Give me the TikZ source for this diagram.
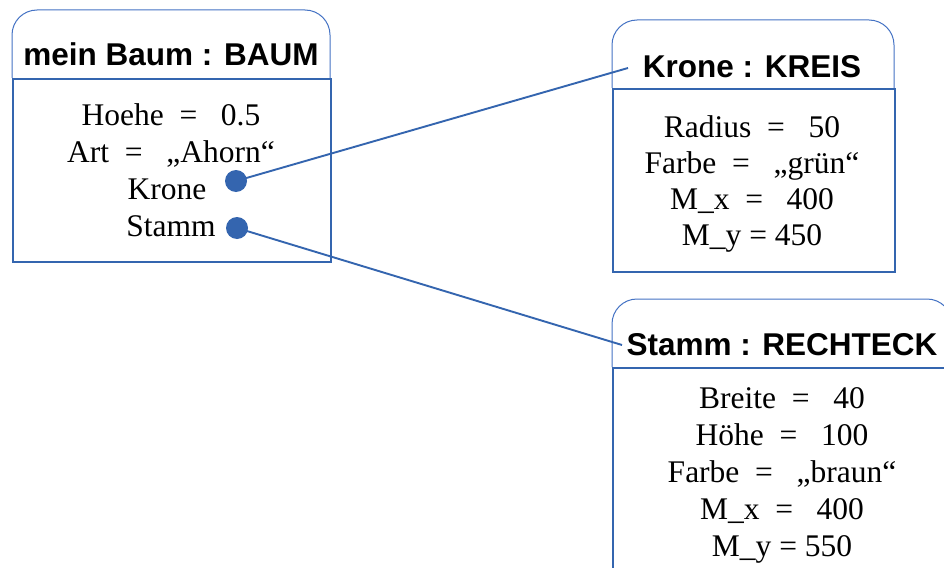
\documentclass[tikz,border=0pt]{standalone}
\usepackage{fontspec}
\setmainfont{Liberation Serif}
\newfontfamily\titlefont{Liberation Sans}
\definecolor{umlblue}{RGB}{52,101,175}
\definecolor{headblue}{RGB}{68,114,196}
\begin{document}
\begin{tikzpicture}[x=1pt,y=-1pt,
  headline/.style={draw=headblue, line width=1pt, rounded corners=25pt},
  bodybox/.style={draw=umlblue, line width=2pt, inner sep=0pt, anchor=north west},
  titletext/.style={font=\titlefont\bfseries\fontsize{31.5}{36}\selectfont, anchor=base, inner sep=0pt},
  attr/.style={font=\fontsize{31.5}{37}\selectfont, anchor=base, inner sep=0pt},
  refdot/.style={circle, fill=umlblue, minimum size=22pt, inner sep=0pt},
  link/.style={draw=umlblue, line width=1.9pt}]
\useasboundingbox (0,0) rectangle (944,567);
\fill[white] (0,0) rectangle (944,567);

% ---- Box 1: mein Baum
\draw[headline] (12,78) -- (12,10) -- (330,10) -- (330,78);
\node[bodybox, minimum width=318pt, minimum height=183pt] (b1) at (12,78) {};
\node[titletext] (t1) at (171,66) {mein Baum : BAUM};
\node[attr] (a11) at (171,125) {Hoehe\ \ =\ \ \ 0.5};
\node[attr] (a12) at (171,162) {Art\ \ =\ \ \ „Ahorn“};
\node[attr] (a13) at (167,199) {Krone};
\node[attr] (a14) at (171,236) {Stamm};
\node[refdot] (dk) at (236,181) {};
\node[refdot] (ds) at (237,228) {};

% ---- Box 2: Krone
\draw[headline] (612,88) -- (612,20) -- (894,20) -- (894,88);
\node[bodybox, minimum width=282pt, minimum height=183pt] (b2) at (612,88) {};
\node[titletext] (t2) at (752,78) {Krone : KREIS};
\node[attr] (a21) at (752,137) {Radius\ \ =\ \ \ 50};
\node[attr] (a22) at (752,173) {Farbe\ \ =\ \ \ „grün“};
\node[attr] (a23) at (752,209) {M\_x\ \ =\ \ \ 400};
\node[attr] (a24) at (752,245) {M\_y = 450};

% ---- Box 3: Stamm
\draw[headline] (612,367) -- (612,299) -- (952,299) -- (952,367);
\node[bodybox, minimum width=340pt, minimum height=240pt] (b3) at (612,367) {};
\node[titletext] (t3) at (782,355) {Stamm : RECHTECK};
\node[attr] (a31) at (782,408) {Breite\ \ =\ \ \ 40};
\node[attr] (a32) at (782,445) {Höhe\ \ =\ \ \ 100};
\node[attr] (a33) at (782,482) {Farbe\ \ =\ \ \ „braun“};
\node[attr] (a34) at (782,519) {M\_x\ \ =\ \ \ 400};
\node[attr] (a35) at (782,556) {M\_y = 550};

% ---- connectors
\coordinate (ek) at (628,68);
\coordinate (es) at (622,345);
\draw[link] (dk.center) -- (ek);
\draw[link] (ds.center) -- (es);
\end{tikzpicture}
\end{document}
